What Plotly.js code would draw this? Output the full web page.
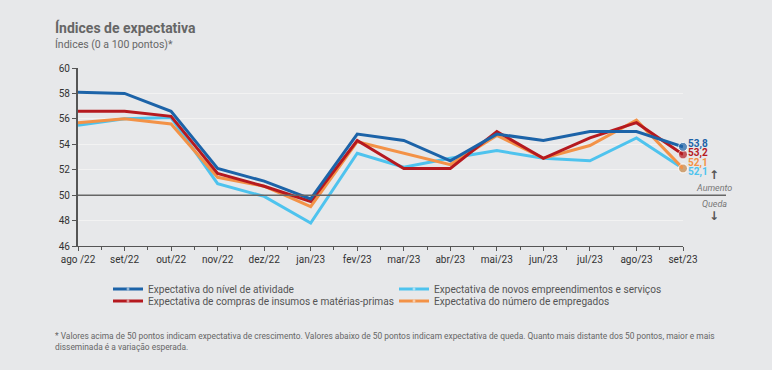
<!DOCTYPE html>
<html><head><meta charset="utf-8">
<script src="https://cdn.plot.ly/plotly-3.0.1.min.js"></script>
<style>html,body{margin:0;padding:0;background:#e7e8ea;}#chart{width:772px;height:370px;}</style>
</head><body><div id="chart"></div>
<script>
const categories = ["ago /22","set/22","out/22","nov/22","dez/22","jan/23","fev/23","mar/23","abr/23","mai/23","jun/23","jul/23","ago/23","set/23"];
const atividade   = [58.1,58.0,56.6,52.1,51.1,49.7,54.8,54.3,52.7,54.8,54.3,55.0,55.0,53.8];
const compras     = [56.6,56.6,56.2,51.7,50.7,49.5,54.3,52.1,52.1,55.0,52.9,54.5,55.7,53.2];
const novos       = [55.5,56.0,56.1,50.9,49.9,47.8,53.3,52.2,52.9,53.5,52.9,52.7,54.5,52.1];
const empregados  = [55.7,56.0,55.6,51.4,50.7,49.1,54.2,53.3,52.4,54.7,52.9,53.9,55.9,52.1];
const endLabels   = ["53,8","53,2","52,1","52,1"];
const names = ["Expectativa do nível de atividade","Expectativa de compras de insumos e matérias-primas","Expectativa de novos empreendimentos e serviços","Expectativa do número de empregados"];

const xs = categories.map((c,i)=>i);
const FONT = 'Roboto, "Liberation Sans", sans-serif';
const colors = ["#1c63a8","#b5191f","#4ec3ee","#f39247"];
const series = [atividade, compras, novos, empregados];
const legendOf = ["legend","legend2","legend","legend2"];
const ranks = [1,1,2,2];
const order = [2,3,1,0]; // drawing order (later on top)

const traces = order.map(k=>({
  x: xs, y: series[k], name: names[k], type:'scatter', mode:'lines+markers',
  line:{color:colors[k], width:3},
  marker:{color:colors[k], size: xs.map((v,i)=> i===xs.length-1 ? 9 : 0)},
  legend: legendOf[k], legendrank: ranks[k], cliponaxis:false, hoverinfo:'skip'
}));

const labelY = [144,153,171.5,162.5];
const annotations = series.map((s,k)=>({
  xref:'paper', yref:'paper', x:(686-78)/605, y:1-(labelY[k]-68)/178, xanchor:'left', yanchor:'middle',
  text:'<b>'+endLabels[k]+'</b>', showarrow:false, font:{family:FONT,size:10,color:colors[k]}
}));
const ax = (714-78)/605;
annotations.push(
  {xref:'paper',yref:'paper',x:ax,y:1-(175-68)/178,text:'<b>↑</b>',showarrow:false,font:{family:'DejaVu Sans',size:12,color:'#555'},xanchor:'center',yanchor:'middle'},
  {xref:'paper',yref:'paper',x:ax,y:1-(188-68)/178,text:'<i>Aumento</i>',showarrow:false,font:{family:FONT,size:9,color:'#777'},xanchor:'center',yanchor:'middle'},
  {xref:'paper',yref:'paper',x:ax,y:1-(204-68)/178,text:'<i>Queda</i>',showarrow:false,font:{family:FONT,size:9,color:'#777'},xanchor:'center',yanchor:'middle'},
  {xref:'paper',yref:'paper',x:ax,y:1-(216-68)/178,text:'<b>↓</b>',showarrow:false,font:{family:'DejaVu Sans',size:12,color:'#555'},xanchor:'center',yanchor:'middle'},
  {xref:'paper',yref:'paper',x:-78/605,y:1+(68-28)/178,text:'<b>Índices de expectativa</b>',showarrow:false,font:{family:FONT,size:14,color:'#666'},xanchor:'left',yanchor:'middle',xshift:53},
  {xref:'paper',yref:'paper',x:-78/605,y:1+(68-44)/178,text:'Índices (0 a 100 pontos)*',showarrow:false,font:{family:FONT,size:10.5,color:'#666'},xanchor:'left',yanchor:'middle',xshift:53},
  {xref:'paper',yref:'paper',x:-78/605,y:1-(341-68)/178,text:'* Valores acima de 50 pontos indicam expectativa de crescimento. Valores abaixo de 50 pontos indicam expectativa de queda. Quanto mais distante dos 50 pontos, maior e mais<br>disseminada é a variação esperada.',showarrow:false,align:'left',font:{family:FONT,size:8.4,color:'#666'},xanchor:'left',yanchor:'middle',xshift:53}
);

const legendBase = {orientation:'h', xanchor:'left', yanchor:'middle', x:(108-78)/605,
  entrywidth:241, entrywidthmode:'pixels',
  font:{family:FONT,size:10.1,color:'#555'}, bgcolor:'rgba(0,0,0,0)', itemwidth:30, tracegroupgap:0, traceorder:'normal'};

const layout = {
  width:772, height:370,
  margin:{l:78,r:89,t:68,b:124},
  paper_bgcolor:'#e7e8ea', plot_bgcolor:'#e7e8ea',
  font:{family:FONT,size:11,color:'#333'},
  showlegend:true,
  legend: Object.assign({}, legendBase, {y:1-(289-68)/178}),
  legend2: Object.assign({}, legendBase, {y:1-(301-68)/178}),
  xaxis:{range:[0,13], tickmode:'array', tickvals:xs, ticktext:categories, showgrid:false, zeroline:false,
    showline:true, linecolor:'#555', linewidth:1, ticks:'outside', ticklen:4, tickcolor:'#555',
    tickfont:{family:FONT,size:10,color:'#333'},
    minor:{dtick:0.5, tick0:0, ticks:'outside', ticklen:3, tickcolor:'#555', showgrid:false}},
  yaxis:{range:[46,60], dtick:2, tick0:46, showgrid:true, gridcolor:'#f2f2f2', gridwidth:1, zeroline:false,
    showline:true, linecolor:'#555', linewidth:2, ticks:'outside', ticklen:4, tickcolor:'#555',
    tickfont:{family:FONT,size:10,color:'#333'}},
  shapes:[{type:'line', xref:'paper', yref:'y', x0:0, x1:(726-78)/605, y0:50, y1:50, line:{color:'#666', width:1.5}}],
  annotations: annotations
};
Plotly.newPlot('chart', traces, layout, {staticPlot:true, displayModeBar:false});
</script></body></html>
